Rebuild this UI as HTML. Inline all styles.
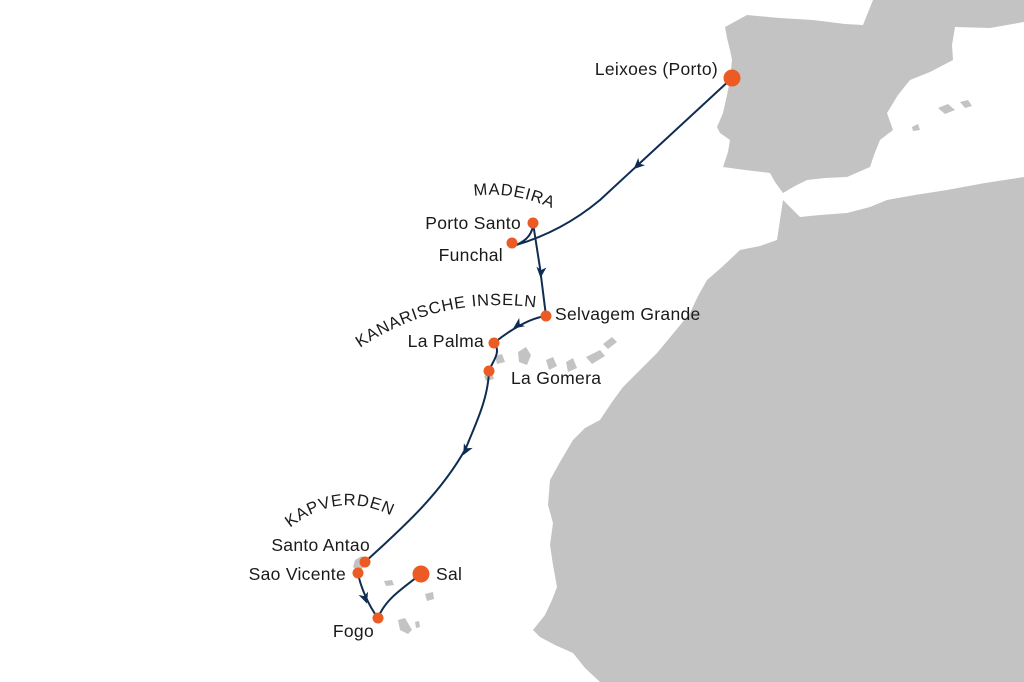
<!DOCTYPE html>
<html><head><meta charset="utf-8"><style>
html,body{margin:0;padding:0;background:#fff;}
svg{display:block;}
text{font-family:"Liberation Sans",sans-serif;font-size:17.5px;fill:#1a1a1a;letter-spacing:0.3px;}
.c{font-size:16.5px;letter-spacing:0.8px;}
</style></head><body>
<svg width="1024" height="682" viewBox="0 0 1024 682" xmlns="http://www.w3.org/2000/svg">
<g fill="#c3c3c3">
<path d="M725,27 L747,15 L780,18 L813,20 L845,24 L863,25 L873,0 L1024,0 L1024,22 L990,28 L955,27 L952,45 L953,60 L930,72 L910,80 L898,95 L887,113 L893,130 L880,140 L874,155 L870,167 L847,177 L825,178 L807,180 L795,186 L783,193 L775,182 L770,173 L745,170 L723,167 L728,152 L730,140 L720,133 L717,127 L723,113 L727,95 L730,80 L732,60 L730,50 L727,38 Z"/>
<path d="M938,108 L948,104 L955,110 L945,114 Z"/>
<path d="M960,102 L968,100 L972,106 L965,108 Z"/>
<path d="M912,127 L918,124 L920,130 L913,131 Z"/>
<path d="M783,200 L800,217 L820,215 L847,213 L870,207 L887,200 L915,195 L947,190 L985,183 L1024,177 L1024,682 L600,682 L585,668 L573,653 L555,645 L540,637 L533,630 L545,615 L552,600 L557,587 L553,565 L550,545 L553,523 L548,505 L550,480 L560,462 L573,440 L585,428 L600,420 L612,402 L623,387 L640,370 L657,353 L672,335 L690,313 L698,296 L707,280 L722,267 L740,250 L760,246 L777,240 L780,220 Z"/>
<path d="M484,376 L492,373 L494,379 L486,381 Z"/>
<path d="M495,356 L502,354 L505,362 L497,364 Z"/>
<path d="M518,352 L526,347 L531,355 L527,365 L519,362 Z"/>
<path d="M546,360 L553,357 L557,366 L549,370 Z"/>
<path d="M566,362 L573,358 L577,368 L568,372 Z"/>
<path d="M586,357 L600,350 L605,356 L592,364 Z"/>
<path d="M603,344 L612,337 L617,342 L608,349 Z"/>
<path d="M355,560 L362,556 L366,566 L358,571 L353,567 Z"/>
<path d="M384,581 L392,580 L394,585 L386,586 Z"/>
<path d="M425,594 L433,592 L434,599 L427,601 Z"/>
<path d="M398,620 L405,618 L412,630 L408,634 L400,630 Z"/>
<path d="M415,622 L419,621 L420,627 L416,628 Z"/>
</g>
<g fill="none" stroke="#0f2d52" stroke-width="2">
<path d="M732,78 L640,163 L600,200 C570,225 540,238 516,245 C528,240 533,232 533,223 L540,268 L546,316"/>
<path d="M546,316 C530,318 510,330 494,343"/>
<path d="M494,343 C502,352 492,362 489,371"/>
<path d="M489,371 C488,400 475,425 466,448 C440,495 400,530 365,562"/>
<path d="M358,573 C360,585 368,605 378,618"/>
<path d="M378,618 C385,600 400,590 421,574"/>
</g>
<g fill="#0f2d52">
<path d="M6,0 L-5,-5 L-2,0 L-5,5 Z" transform="translate(638,165) rotate(137)"/>
<path d="M6,0 L-5,-5 L-2,0 L-5,5 Z" transform="translate(541,272) rotate(95)"/>
<path d="M6,0 L-5,-5 L-2,0 L-5,5 Z" transform="translate(518,325) rotate(145)"/>
<path d="M6,0 L-5,-5 L-2,0 L-5,5 Z" transform="translate(466,450) rotate(118)"/>
<path d="M6,0 L-5,-5 L-2,0 L-5,5 Z" transform="translate(365,598) rotate(70)"/>
</g>
<g fill="#ec5b24">
<circle cx="732" cy="78" r="8.5"/>
<circle cx="533" cy="223" r="5.5"/>
<circle cx="512" cy="243" r="5.5"/>
<circle cx="546" cy="316" r="5.5"/>
<circle cx="494" cy="343" r="5.5"/>
<circle cx="489" cy="371" r="5.5"/>
<circle cx="365" cy="562" r="5.5"/>
<circle cx="358" cy="573" r="5.5"/>
<circle cx="378" cy="618" r="5.5"/>
<circle cx="421" cy="574" r="8.5"/>
</g>
<g text-anchor="end">
<text x="718" y="75">Leixoes (Porto)</text>
<text x="521" y="229">Porto Santo</text>
<text x="503" y="261">Funchal</text>
<text x="484" y="347">La Palma</text>
<text x="370" y="551">Santo Antao</text>
<text x="346" y="580">Sao Vicente</text>
<text x="374" y="637">Fogo</text>
</g>
<text x="555" y="320">Selvagem Grande</text>
<text x="511" y="384">La Gomera</text>
<text x="436" y="580">Sal</text>
<defs>
<path id="p1" d="M474,196 Q515,190 560,212"/>
<path id="p2" d="M360,348 Q440,294 540,308"/>
<path id="p3" d="M290,528 Q340,488 396,518"/>
</defs>
<text class="c"><textPath href="#p1">MADEIRA</textPath></text>
<text class="c"><textPath href="#p2">KANARISCHE INSELN</textPath></text>
<text class="c"><textPath href="#p3">KAPVERDEN</textPath></text>
</svg>
</body></html>
